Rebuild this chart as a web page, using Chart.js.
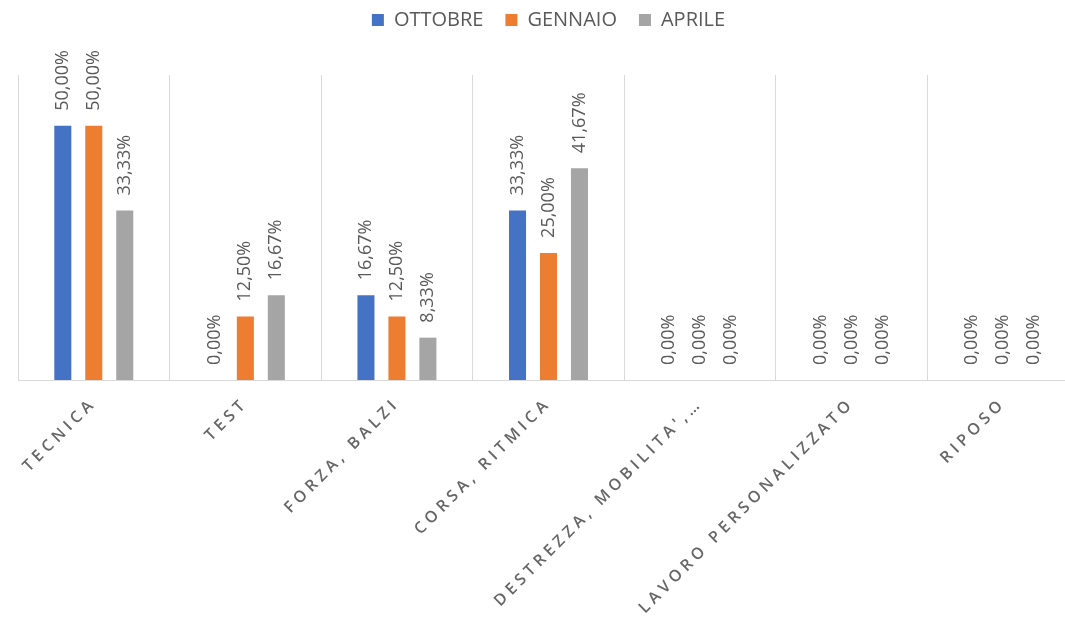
<!DOCTYPE html>
<html>
<head>
<meta charset="utf-8">
<script src="https://cdn.jsdelivr.net/npm/chart.js@4/dist/chart.umd.min.js"></script>
<style>
  html, body { margin: 0; padding: 0; background: #fff; overflow: hidden; }
  #chart { display: block; }
</style>
</head>
<body>
<canvas id="chart" width="1100" height="621"></canvas>
<script>
// categories and series (percent)
const categories = ["TECNICA", "TEST", "FORZA, BALZI", "CORSA, RITMICA", "DESTREZZA, MOBILITA',…", "LAVORO PERSONALIZZATO", "RIPOSO"]
const ottobre = [50, 0, 16.67, 33.33, 0, 0, 0]
const gennaio = [50, 12.5, 12.5, 25, 0, 0, 0]
const aprile = [33.33, 16.67, 8.33, 41.67, 0, 0, 0]

const textGray = '#595959'

function pct(v) {
  return v.toFixed(2).replace('.', ',') + '%'
}

// vertical value labels above each bar
const valueLabels = {
  id: 'valueLabels',
  afterDatasetsDraw(chart) {
    let ctx = chart.ctx
    ctx.save()
    ctx.font = '18px "Open Sans"'
    ctx.fillStyle = textGray
    ctx.textAlign = 'left'
    ctx.textBaseline = 'middle'
    chart.data.datasets.forEach((ds, i) => {
      chart.getDatasetMeta(i).data.forEach((bar, j) => {
        ctx.save()
        ctx.translate(bar.x, bar.y - 15)
        ctx.rotate(-Math.PI / 2)
        ctx.fillText(pct(ds.data[j]), 0, 0)
        ctx.restore()
      })
    })
    ctx.restore()
  }
}

// wide tracking on the category labels
const spacedTicks = {
  id: 'spacedTicks',
  afterLayout(chart) {
    let x = chart.scales.x
    if (x._spaced) return
    let draw = x.drawLabels
    x.drawLabels = function(area) {
      this.ctx.save()
      this.ctx.letterSpacing = '4.3px'
      draw.call(this, area)
      this.ctx.restore()
    }
    x._spaced = true
  }
}

// fixed room for the legend above the plot
const legendSpace = {
  id: 'legendSpace',
  beforeInit(chart) {
    let fit = chart.legend.fit
    chart.legend.fit = function() {
      fit.call(this)
      this.height = 87
    }
  }
}

let ctx = document.getElementById('chart').getContext('2d')
let myChart = new Chart(ctx, {
  type: 'bar',
  data: {
    labels: categories,
    datasets: [
      { label: 'OTTOBRE', data: ottobre, backgroundColor: '#4472C4' },
      { label: 'GENNAIO', data: gennaio, backgroundColor: '#ED7D31' },
      { label: 'APRILE', data: aprile, backgroundColor: '#A5A5A5' },
    ]
  },
  options: {
    responsive: false,
    animation: false,
    categoryPercentage: 0.613,
    barPercentage: 0.55,
    layout: {
      padding: { top: -12, left: 18, right: 21, bottom: 0 }
    },
    plugins: {
      legend: {
        position: 'top',
        labels: {
          boxWidth: 12,
          boxHeight: 12,
          padding: 22,
          color: textGray,
          font: { family: '"Open Sans"', size: 20 }
        }
      },
      tooltip: { enabled: false }
    },
    scales: {
      x: {
        grid: { color: '#D9D9D9', drawTicks: false, offset: true },
        border: { color: '#D9D9D9' },
        ticks: {
          autoSkip: false,
          maxRotation: 45,
          minRotation: 45,
          padding: 14,
          color: '#666666',
          font: { family: '"Open Sans"', size: 16, weight: '600' }
        },
        afterFit: (scale) => { scale.height = 241 }
      },
      y: {
        display: false,
        min: 0,
        max: 60
      }
    }
  },
  plugins: [valueLabels, spacedTicks, legendSpace]
})
</script>
</body>
</html>
